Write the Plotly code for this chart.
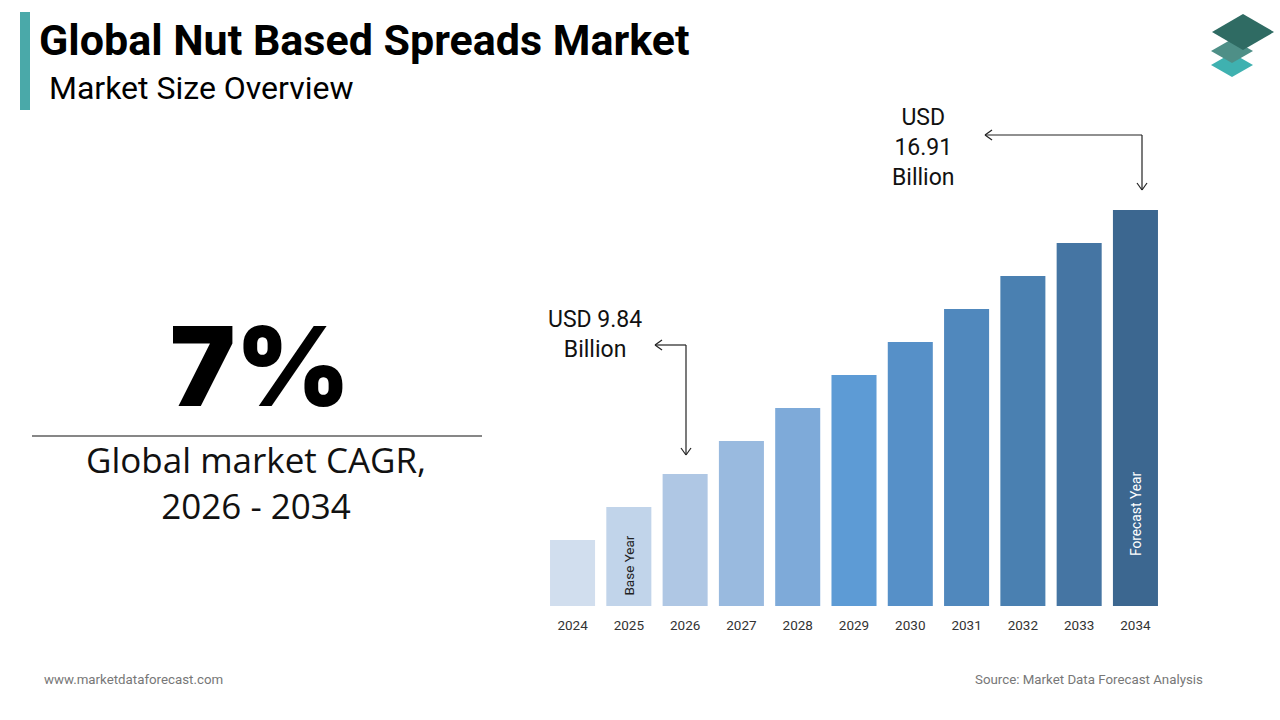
import plotly.graph_objs as go

# bar heights (relative units, 1 unit ~ 33 px)
years = ['2024', '2025', '2026', '2027', '2028', '2029', '2030', '2031', '2032', '2033', '2034']
heights = [2.0, 3.0, 4.0, 5.0, 6.0, 7.0, 8.0, 9.0, 10.0, 11.0, 12.0]
base_year = '2025'
forecast_year = '2034'
label_base = 'USD 9.84<br>Billion'
label_forecast = 'USD<br>16.91<br>Billion'
cagr_value = '7%'
cagr_text = 'Global market CAGR,<br>2026 - 2034'

bar_colors = ['#d1deee', '#c1d4ea', '#afc7e4', '#99badf', '#7eaad9', '#5d9bd5',
              '#5690c8', '#5088bd', '#4a80b1', '#4575a3', '#3c6790']

W, H = 1280, 720


def px(x):
    return x / W


def py(y):
    return 1 - y / H


def seg(x0, y0, x1, y1, color='#222222', width=1.2):
    return dict(type='line', xref='paper', yref='paper', x0=px(x0), y0=py(y0), x1=px(x1), y1=py(y1),
                line=dict(color=color, width=width))


def diamond(cx, cy, hw, hh, color):
    path = 'M {} {} L {} {} L {} {} L {} {} Z'.format(px(cx - hw), py(cy), px(cx), py(cy - hh),
                                                      px(cx + hw), py(cy), px(cx), py(cy + hh))
    return dict(type='path', xref='paper', yref='paper', path=path, fillcolor=color,
                line=dict(width=0))


trace = go.Bar(x=years, y=heights, marker=dict(color=bar_colors, line=dict(width=0)),
               hoverinfo='x', showlegend=False)

shapes = [
    # teal accent beside the title
    dict(type='rect', xref='paper', yref='paper', x0=px(20), x1=px(30), y0=py(110), y1=py(12),
         fillcolor='#4aa9a9', line=dict(width=0)),
    # divider under 7%
    seg(32, 436, 482, 436, color='#111111', width=1.2),
    # arrow to 2026
    seg(686, 345, 655, 345), seg(662, 340, 655, 345), seg(662, 350, 655, 345),
    seg(686, 345, 686, 455), seg(681, 448, 686, 455), seg(691, 448, 686, 455),
    # arrow to 2034
    seg(1142, 135, 985, 135), seg(992, 130, 985, 135), seg(992, 140, 985, 135),
    seg(1142, 135, 1142, 190), seg(1137, 183, 1142, 190), seg(1147, 183, 1142, 190),
    # logo
    diamond(1232, 65, 21, 12, '#3fb1b0'),
    diamond(1232, 51, 21, 12, '#4e8f87'),
    diamond(1243, 32, 31, 18, '#2f6b63'),
]

annotations = [
    dict(text='<b>Global Nut Based Spreads Market</b>', x=px(37), y=py(40), xanchor='left', yanchor='middle',
         font=dict(family='Roboto', size=43, color='#000000')),
    dict(text='Market Size Overview', x=px(47), y=py(88), xanchor='left', yanchor='middle',
         font=dict(family='Roboto', size=32, color='#000000')),
    dict(text=cagr_value, x=px(260), y=py(366), xanchor='center', yanchor='middle',
         font=dict(family='Inter', size=110, color='#000000', weight=900)),
    dict(text=cagr_text, x=px(256), y=py(483), xanchor='center', yanchor='middle',
         font=dict(family='Open Sans', size=35, color='#111111')),
    dict(text=label_base, x=px(595), y=py(334), xanchor='center', yanchor='middle',
         font=dict(family='Roboto', size=23, color='#111111')),
    dict(text=label_forecast, x=px(923), y=py(148), xanchor='center', yanchor='middle',
         font=dict(family='Roboto', size=23, color='#111111')),
    dict(text='Base Year', x=years.index(base_year), y=0.25, xref='x', yref='y', textangle=-90,
         yanchor='bottom', xanchor='center', font=dict(family='Roboto', size=13.5, color='#222222')),
    dict(text='Forecast Year', x=years.index(forecast_year), y=1.45, xref='x', yref='y', textangle=-90,
         yanchor='bottom', xanchor='center', font=dict(family='Roboto', size=13.8, color='#ffffff')),
    dict(text='www.marketdataforecast.com', x=px(42), y=py(679), xanchor='left', yanchor='middle',
         font=dict(family='Roboto', size=13.3, color='#777777')),
    dict(text='Source: Market Data Forecast Analysis', x=px(1205), y=py(679), xanchor='right',
         yanchor='middle', font=dict(family='Roboto', size=13.3, color='#777777')),
]
for a in annotations:
    a.setdefault('xref', 'paper')
    a.setdefault('yref', 'paper')
    a['showarrow'] = False

layout = go.Layout(
    width=W, height=H, margin=dict(l=0, r=0, t=0, b=0, autoexpand=False),
    paper_bgcolor='white', plot_bgcolor='white',
    bargap=0.2,
    xaxis=dict(type='category', range=[-0.5, len(years) - 0.5], domain=[px(544.4), px(1163.6)],
               showgrid=False, zeroline=False, showline=False, ticks='',
               tickfont=dict(family='Roboto', size=13.5, color='#333333'), ticklabelstandoff=9),
    yaxis=dict(domain=[py(606), py(210)], range=[0, 12], visible=False),
    shapes=shapes, annotations=annotations,
)

fig = go.Figure(data=[trace], layout=layout)
fig.write_html("out.html", config={'displayModeBar': False},
               post_script="document.body.style.margin='0';")
